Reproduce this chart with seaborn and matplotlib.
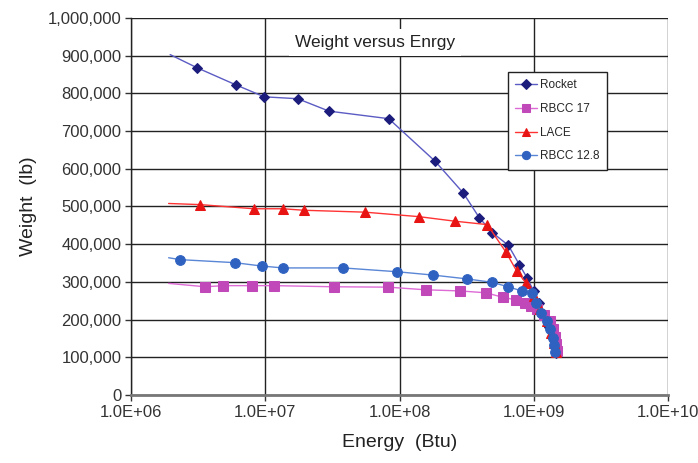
import matplotlib
matplotlib.use("Agg")
import matplotlib.pyplot as plt
import seaborn as sns
from matplotlib.ticker import FuncFormatter, FixedLocator

# values
rocket_energy = [1.95e6, 3.1e6, 6.0e6, 9.8e6, 1.74e7, 2.98e7, 8.3e7, 1.84e8, 2.98e8, 3.93e8,
                 4.9e8, 6.46e8, 7.8e8, 8.9e8, 1.0e9, 1.1e9, 1.2e9, 1.3e9, 1.38e9, 1.43e9, 1.46e9]
rocket_weight = [903000, 868000, 823000, 791000, 786000, 753000, 733000, 620000, 536000, 470000,
                 431000, 397000, 346000, 311000, 275000, 245000, 212000, 180000, 150000, 128000, 112000]

rbcc17_energy = [1.9e6, 3.56e6, 4.87e6, 7.9e6, 1.16e7, 3.25e7, 8.2e7, 1.56e8, 2.82e8, 4.4e8, 5.9e8,
                 7.4e8, 8.6e8, 9.6e8, 1.06e9, 1.19e9, 1.33e9, 1.4e9, 1.44e9, 1.47e9, 1.49e9]
rbcc17_weight = [296000, 287000, 290000, 290000, 290000, 287000, 286000, 279000, 276000, 271000, 259000,
                 252000, 245000, 236000, 227000, 213000, 195000, 175000, 155000, 135000, 117000]

lace_energy = [1.9e6, 3.27e6, 8.2e6, 1.35e7, 1.94e7, 5.5e7, 1.4e8, 2.58e8, 4.5e8, 6.2e8, 7.45e8,
               8.7e8, 1.0e9, 1.12e9, 1.25e9, 1.35e9, 1.42e9, 1.46e9]
lace_weight = [508000, 505000, 494000, 494000, 490000, 485000, 473000, 461000, 452000, 379000, 329000,
               298000, 262000, 228000, 195000, 165000, 138000, 115000]

rbcc128_energy = [1.9e6, 2.32e6, 5.9e6, 9.4e6, 1.35e7, 3.8e7, 9.5e7, 1.78e8, 3.16e8, 4.85e8, 6.46e8,
                  8.1e8, 9.7e8, 1.04e9, 1.14e9, 1.25e9, 1.32e9, 1.38e9, 1.42e9, 1.44e9]
rbcc128_weight = [364000, 359000, 351000, 342000, 337000, 337000, 327000, 318000, 308000, 299000, 287000,
                  276000, 271000, 245000, 218000, 196000, 174000, 152000, 132000, 114000]

x_ticks = [1e6, 1e7, 1e8, 1e9, 1e10]
y_ticks = list(range(0, 1000001, 100000))

sns.set_style("whitegrid")
plt.rcParams["font.family"] = ["Liberation Sans", "DejaVu Sans"]

fig, ax = plt.subplots(figsize=(6.98, 4.63), dpi=100)
fig.subplots_adjust(left=0.188, right=0.957, top=0.961, bottom=0.147)

series = [
    ("Rocket", rocket_energy, rocket_weight, "#5b5bc4", "#1c1c7c", "D", 5.5),
    ("RBCC 17", rbcc17_energy, rbcc17_weight, "#de6ad6", "#c048b8", "s", 7),
    ("LACE", lace_energy, lace_weight, "#ff3333", "#e81414", "^", 6.5),
    ("RBCC 12.8", rbcc128_energy, rbcc128_weight, "#5a86d6", "#2f62c0", "o", 7),
]
for name, ex, wy, lc, mc, mk, ms in series:
    sns.lineplot(x=ex, y=wy, ax=ax, sort=False, estimator=None, color=lc, lw=1.0,
                 marker=mk, markersize=ms, markerfacecolor=mc, markeredgecolor=mc,
                 markevery=slice(1, None), label=name, zorder=3)

ax.set_xscale("log")
ax.set_xlim(1e6, 1e10)
ax.set_ylim(0, 1000000)
ax.xaxis.set_major_locator(FixedLocator(x_ticks))
ax.xaxis.set_minor_locator(FixedLocator([]))
ax.set_yticks(y_ticks)
ax.xaxis.set_major_formatter(FuncFormatter(lambda v, p: f"{v:.1E}"))
ax.yaxis.set_major_formatter(FuncFormatter(lambda v, p: f"{v:,.0f}"))

ax.grid(True, color="#222222", lw=1.0)
ax.set_axisbelow(True)
for s in ["top", "right"]:
    ax.spines[s].set_visible(False)
ax.spines["left"].set_color("#222222")
ax.spines["left"].set_linewidth(1.0)
ax.spines["bottom"].set_color("#777777")
ax.spines["bottom"].set_linewidth(2.0)

ax.tick_params(axis="both", labelsize=12, colors="#333333", length=4, width=1.0,
               direction="out", bottom=True, left=True, pad=3)
ax.set_xlabel("Energy  (Btu)", fontsize=14, color="#222222", labelpad=10)
ax.set_ylabel("Weight  (lb)", fontsize=14, color="#222222", labelpad=8)

ax.text(0.454, 0.936, "Weight versus Enrgy", transform=ax.transAxes, ha="center", va="center",
        fontsize=12.5, color="#222222", zorder=4,
        bbox=dict(boxstyle="square,pad=0.35", fc="white", ec="none"))

leg = ax.legend(loc="upper right", bbox_to_anchor=(0.886, 0.857), fontsize=8.5, frameon=True,
                fancybox=False, framealpha=1, edgecolor="#222222", handlelength=1.9,
                handletextpad=0.25, labelspacing=1.0, borderpad=0.6, borderaxespad=0,
                markerscale=0.85)
leg.get_frame().set_linewidth(1.0)
leg.set_zorder(5)

fig.savefig("out.png", dpi=100)
